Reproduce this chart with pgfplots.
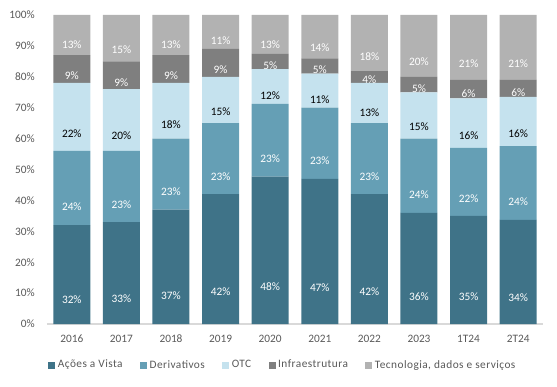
\documentclass[border=0pt]{standalone}
\usepackage{pgfplots}
\pgfplotsset{compat=1.18}
\usepackage{pgfplotstable}
\usepackage{fontspec}
\setmainfont{Carlito}
\newfontfamily\legfont[LetterSpace=4]{Carlito}
\definecolor{cA}{HTML}{3F7388}
\definecolor{cB}{HTML}{659FB5}
\definecolor{cC}{HTML}{C5E2EE}
\definecolor{cD}{HTML}{7F7F7F}
\definecolor{cE}{HTML}{B2B2B2}
\definecolor{txt}{HTML}{595959}
\pgfplotstableread{
x a al b bl c cl d dl e el
0 32 32 24 24 22 22 9 9 13 13
1 33 33 23 23 20 20 9 9 15 15
2 37 37 23 23 18 18 9 9 13 13
3 42 42 23 23 15 15 9 9 11 11
4 47.7 48 23.5 23 11.3 12 4.9 5 12.6 13
5 47 47 23 23 11 11 5 5 14 14
6 42 42 23 23 13 13 4 4 18 18
7 36 36 24 24 15 15 5 5 20 20
8 35 35 22 22 16 16 6 6 21 21
9 33.7 34 23.9 24 15.9 16 5.5 6 21 21
}\data
\begin{document}
\begin{tikzpicture}
\path[use as bounding box] (-35.25pt,-46.5pt) rectangle (382.5pt,243pt);
\begin{axis}[
  at={(0,0)}, anchor=south west,
  scale only axis, width=372pt, height=231.75pt,
  ybar stacked, bar width=27.75pt,
  xmin=-0.5, xmax=9.5, ymin=0, ymax=100,
  xtick={0,...,9},
  xticklabels={2016,2017,2018,2019,2020,2021,2022,2023,1T24,2T24},
  ytick={0,10,...,100},
  yticklabel={\pgfmathprintnumber{\tick}\%},
  /pgf/number format/assume math mode=true,
  major tick length=0pt,
  axis x line=bottom, axis y line=left,
  x axis line style={-, draw=black!15, line width=0.9pt},
  y axis line style={draw=none},
  tick label style={font=\fontsize{8.5}{10}\selectfont, text=txt},
  yticklabel style={anchor=east, inner sep=0pt, xshift=-9pt},
  xticklabel style={anchor=north, inner sep=0pt, yshift=-8pt},
  point meta=explicit symbolic,
  visualization depends on=rawy \as \rawy,
  nodes near coords={\pgfplotspointmeta\%},
  every node near coord/.append style={anchor=center, inner sep=0pt,
     yshift=-\rawy*0.579375pt, font=\fontsize{8.5}{10}\selectfont},
  legend columns=5,
  legend style={at={(0.002,-0.133)}, anchor=west, draw=none,
     font=\legfont\fontsize{8.5}{10}\selectfont, text=txt, inner sep=0pt,
     /tikz/every even column/.append style={column sep=11pt}},
  legend cell align=left,
  legend image code/.code={\fill[#1] (0pt,-2.6pt) rectangle (5.2pt,2.6pt);},
]
\addplot[fill=cA, draw=none, nodes near coords style={text=white}] table[x=x, y=a, meta=al] {\data};
\addplot[fill=cB, draw=none, nodes near coords style={text=white}] table[x=x, y=b, meta=bl] {\data};
\addplot[fill=cC, draw=none, nodes near coords style={text=black}] table[x=x, y=c, meta=cl] {\data};
\addplot[fill=cD, draw=none, nodes near coords style={text=white}] table[x=x, y=d, meta=dl] {\data};
\addplot[fill=cE, draw=none, nodes near coords style={text=white}] table[x=x, y=e, meta=el] {\data};
\legend{Ações a Vista, Derivativos, OTC, Infraestrutura, {Tecnologia, dados e serviços}}
\end{axis}
\end{tikzpicture}
\end{document}
